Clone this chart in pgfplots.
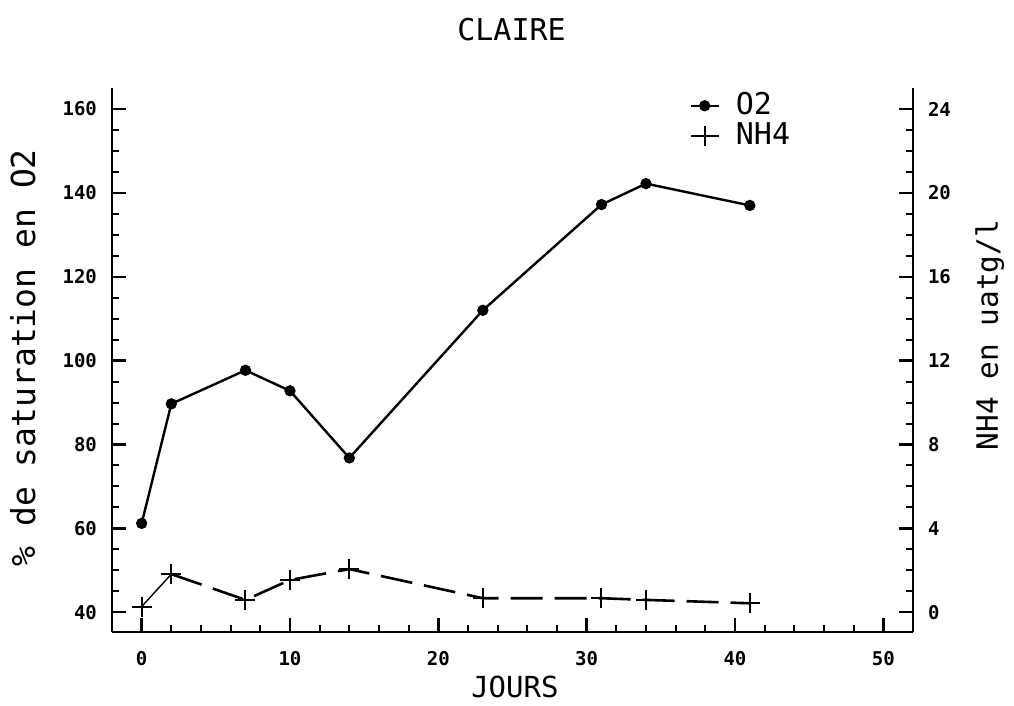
\documentclass[border=0pt]{standalone}
\usepackage{pgfplots}
\pgfplotsset{compat=1.18}
\usepackage{fontspec}
\setmainfont{DejaVu Sans Mono}
\begin{document}
\begin{tikzpicture}
\useasboundingbox (0,0) rectangle (507pt,353pt);
\pgfplotsset{
  common/.style={
    scale only axis, width=400.5pt, height=272pt,
    at={(56pt,37pt)}, anchor=south west,
    xmin=-2, xmax=52,
    tick align=inside,
    major tick length=7pt, minor tick length=3.5pt,
    major tick style={black, line width=1.2pt},
    minor tick style={black, line width=1pt},
    axis line style={line width=1.4pt},
    /pgf/number format/assume math mode=true,
    ticklabel style={font=\fontsize{9.5}{10}\selectfont\bfseries},
  }
}
\begin{axis}[common,
  axis x line*=bottom, axis y line*=left,
  ymin=35.3, ymax=165,
  xtick={0,10,...,50}, minor x tick num=4,
  ytick={40,60,...,160}, minor y tick num=3,
  xticklabel style={anchor=north, yshift=-6pt},
  yticklabel style={anchor=east, xshift=-4pt},
  title={CLAIRE},
  title style={at={(axis description cs:0.4988,1.088)}, anchor=base, yshift=-6pt, font=\fontsize{15}{15}\selectfont},
  xlabel={JOURS},
  xlabel style={at={(axis description cs:0.503,-0.1195)}, anchor=base, font=\fontsize{14.5}{15}\selectfont},
  ylabel={\% de saturation en O2},
  ylabel style={at={(axis description cs:-0.0961,0.504)}, anchor=base, font=\fontsize{16.5}{17}\selectfont},
  legend style={at={(axis description cs:0.713,1.003)}, anchor=north west, draw=none, fill=none,
    font=\fontsize{15}{15}\selectfont, row sep=0pt,
    nodes={inner sep=1pt, text height=11pt, text depth=2pt},
    /tikz/every odd column/.append style={column sep=7pt}},
  legend cell align=left,
  legend image code/.code={\draw[mark repeat=2,mark phase=2,#1] plot coordinates {(0pt,0pt)(7pt,0pt)(14pt,0pt)};},
]
\addplot[black, line width=1.2pt, mark=*, mark size=2.2pt, mark options={solid}]
  coordinates {(0,61.2)(2,89.7)(7,97.7)(10,92.8)(14,76.8)(23,112)(31,137.2)(34,142.2)(41,137)};
\addlegendentry{O2}
\addlegendimage{black, line width=1.2pt, mark=+, mark size=5pt}
\addlegendentry{NH4}
\end{axis}
\begin{axis}[common,
  axis y line*=right, axis x line=none,
  ymin=-0.94, ymax=25,
  ytick={0,4,...,24}, minor y tick num=3,
  yticklabel style={anchor=west, xshift=4pt},
  ylabel={NH4 en uatg/l},
  ylabel style={at={(axis description cs:1.106,0.546)}, anchor=base, font=\fontsize{14.7}{15}\selectfont},
]
\addplot[black, line width=0.7pt] coordinates {(0,0.27)(2,1.82)};
\addplot[black, line width=1.3pt, dash pattern=on 16pt off 6pt]
  coordinates {(2,1.82)(7,0.59)(10,1.54)(14,2.06)(23,0.67)(31,0.67)(34,0.59)(41,0.43)};
\addplot[black, only marks, mark=+, mark size=5pt, mark options={line width=1pt}]
  coordinates {(0,0.27)(2,1.82)(7,0.59)(10,1.54)(14,2.06)(23,0.67)(31,0.67)(34,0.59)(41,0.43)};
\end{axis}
\end{tikzpicture}
\end{document}
